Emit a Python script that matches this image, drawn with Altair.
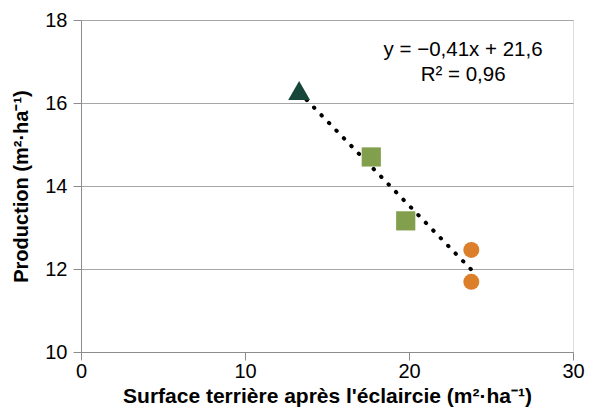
import altair as alt
import pandas as pd

# Basal area after thinning (m²·ha⁻¹) and production (m²·ha⁻¹) per stand group
surface = [13.3, 17.7, 19.8, 23.8, 23.8]
production = [16.3, 14.7, 13.16, 12.46, 11.69]
groupe = ["A", "B", "B", "C", "C"]

groupes = ["A", "B", "C"]
couleurs = ["#17473a", "#829f4d", "#dc7f2b"]
formes = ["triangle-up", "square", "circle"]
tailles = [480, 256, 256]

equation = ["y = \u22120,41x + 21,6", "R\u00b2 = 0,96"]
eq_x = [23.3, 23.3]
eq_y = [17.28, 16.68]

df = pd.DataFrame({"surface": surface, "production": production, "groupe": groupe})
df_eq = pd.DataFrame({"texte": equation, "x": eq_x, "y": eq_y})

FONT = "Liberation Sans"

x_scale = alt.Scale(domain=[0, 30], nice=False, zero=False)
y_scale = alt.Scale(domain=[10, 18], nice=False, zero=False)

x_axis = alt.Axis(
    title="Surface terrière après l'éclaircie (m²·ha⁻¹)",
    values=[0, 10, 20, 30], grid=False, tickSize=8, labelPadding=1,
    labelFontSize=20, titleFontSize=21, titleFontWeight="bold", titlePadding=4,
    labelFont=FONT, titleFont=FONT, labelColor="#000", titleColor="#000",
    domainColor="#8c8c8c", tickColor="#8c8c8c", labelFlush=False,
)
y_axis = alt.Axis(
    title="Production (m²·ha⁻¹)",
    values=[10, 12, 14, 16, 18], grid=True, gridColor="#a6a6a6", tickSize=8,
    labelPadding=6, labelFontSize=20, titleFontSize=20, titleFontWeight="bold",
    titlePadding=13, labelFont=FONT, titleFont=FONT, labelColor="#000",
    titleColor="#000", domainColor="#8c8c8c", tickColor="#8c8c8c",
)

base = alt.Chart(df)

# Linear trend fitted on all points, drawn as a round-dotted line
tendance = base.transform_regression("surface", "production").mark_line(
    color="black", strokeWidth=4, strokeDash=[0.5, 10.2], strokeCap="round"
).encode(
    x=alt.X("surface:Q", scale=x_scale, axis=x_axis),
    y=alt.Y("production:Q", scale=y_scale, axis=y_axis),
)

points = base.mark_point(filled=True, opacity=1).encode(
    x=alt.X("surface:Q", scale=x_scale),
    y=alt.Y("production:Q", scale=y_scale),
    color=alt.Color("groupe:N", scale=alt.Scale(domain=groupes, range=couleurs), legend=None),
    shape=alt.Shape("groupe:N", scale=alt.Scale(domain=groupes, range=formes), legend=None),
    size=alt.Size("groupe:N", scale=alt.Scale(domain=groupes, range=tailles), legend=None),
)

texte = alt.Chart(df_eq).mark_text(
    font=FONT, fontSize=20.5, color="#000", align="center", baseline="middle"
).encode(
    x=alt.X("x:Q", scale=x_scale),
    y=alt.Y("y:Q", scale=y_scale),
    text="texte:N",
)

chart = alt.layer(tendance, points, texte).properties(
    width=492, height=332,
    autosize=alt.AutoSizeParams(type="none"),
    padding={"left": 81, "top": 20, "right": 16, "bottom": 65},
).configure_view(stroke=None).configure(background="white")

chart.save("out.html", embed_options={"renderer": "svg", "actions": False})
